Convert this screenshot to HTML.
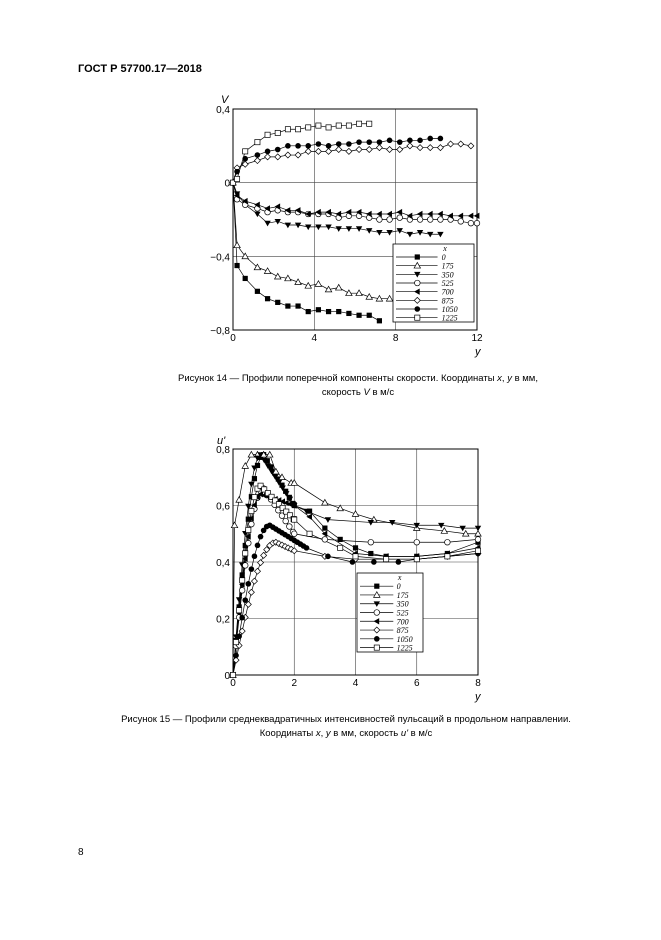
<!DOCTYPE html>
<html><head><meta charset="utf-8"><style>
body{margin:0;background:#fff;width:661px;height:935px;overflow:hidden;font-family:"Liberation Sans",sans-serif;}
</style></head><body>
<svg id="s" width="661" height="935" xmlns="http://www.w3.org/2000/svg" font-family="Liberation Sans, sans-serif">
<text x="78" y="72" font-size="11" font-weight="bold">ГОСТ Р 57700.17—2018</text>
<text x="358" y="381" font-size="9.5" text-anchor="middle">Рисунок 14 — Профили поперечной компоненты скорости. Координаты <tspan font-style="italic">x</tspan>, <tspan font-style="italic">y</tspan> в мм,</text>
<text x="358" y="395" font-size="9.5" text-anchor="middle">скорость <tspan font-style="italic">V</tspan> в м/с</text>
<text x="346" y="722" font-size="9.5" text-anchor="middle">Рисунок 15 — Профили среднеквадратичных интенсивностей пульсаций в продольном направлении.</text>
<text x="346" y="736" font-size="9.5" text-anchor="middle">Координаты <tspan font-style="italic">x</tspan>, <tspan font-style="italic">y</tspan> в мм, скорость <tspan font-style="italic">u'</tspan> в м/с</text>
<text x="78" y="855" font-size="10">8</text>
</svg>
<script>
const S=document.getElementById('s');const NS='http://www.w3.org/2000/svg';
function el(t,a,txt){const e=document.createElementNS(NS,t);for(const k in a)e.setAttribute(k,a[k]);if(txt!=null)e.textContent=txt;S.appendChild(e);return e;}
function marker(type,x,y){const r=2.6;
 if(type=='sq')el('rect',{x:x-r,y:y-r,width:2*r,height:2*r,fill:'#000'});
 if(type=='osq')el('rect',{x:x-r,y:y-r,width:2*r,height:2*r,fill:'#fff',stroke:'#000','stroke-width':0.7});
 if(type=='tu')el('polygon',{points:`${x},${y-3.2} ${x-3.2},${y+2.4} ${x+3.2},${y+2.4}`,fill:'#fff',stroke:'#000','stroke-width':0.7});
 if(type=='td')el('polygon',{points:`${x},${y+3.2} ${x-3.2},${y-2.4} ${x+3.2},${y-2.4}`,fill:'#000'});
 if(type=='tl')el('polygon',{points:`${x-3.2},${y} ${x+2.4},${y-3.2} ${x+2.4},${y+3.2}`,fill:'#000'});
 if(type=='oc')el('circle',{cx:x,cy:y,r:2.8,fill:'#fff',stroke:'#000','stroke-width':0.7});
 if(type=='c')el('circle',{cx:x,cy:y,r:2.8,fill:'#000'});
 if(type=='d')el('polygon',{points:`${x},${y-3} ${x+3},${y} ${x},${y+3} ${x-3},${y}`,fill:'#fff',stroke:'#000','stroke-width':0.7});
}
function chart(c){
 const X=v=>c.x0+(v-c.xmin)/(c.xmax-c.xmin)*(c.x1-c.x0);
 const Y=v=>c.y1-(v-c.ymin)/(c.ymax-c.ymin)*(c.y1-c.y0);
 for(const v of c.xt){el('line',{x1:X(v),x2:X(v),y1:c.y0,y2:c.y1,stroke:'#444','stroke-width':0.6});
  el('text',{x:X(v),y:c.y1+11,'font-size':10,'text-anchor':'middle'},c.xl(v));}
 for(const v of c.yt){el('line',{x1:c.x0,x2:c.x1,y1:Y(v),y2:Y(v),stroke:'#444','stroke-width':0.6});
  el('text',{x:c.x0-3,y:Y(v)+4,'font-size':10,'text-anchor':'end'},c.yl(v));}
 el('rect',{x:c.x0,y:c.y0,width:c.x1-c.x0,height:c.y1-c.y0,fill:'none',stroke:'#000','stroke-width':1});
 for(const s of c.series){const pts=s.p.map(p=>X(p[0])+','+Y(p[1])).join(' ');
  el('polyline',{points:pts,fill:'none',stroke:'#000','stroke-width':0.7});}
 for(const s of c.series)for(const p of s.p)marker(s.m,X(p[0]),Y(p[1]));
 const L=c.leg;el('rect',{x:L.x,y:L.y,width:L.w,height:L.h,fill:'#fff',stroke:'#000','stroke-width':0.8});
 const dh=L.h/9;el('text',{x:L.x+L.w*0.62,y:L.y+dh*0.8,'font-size':8,'font-style':'italic','font-family':'Liberation Serif, serif'},'x');
 c.series.forEach((s,i)=>{const yy=L.y+dh*(i+1.5);el('line',{x1:L.x+3,x2:L.x+L.w*0.55,y1:yy,y2:yy,stroke:'#000','stroke-width':0.7});
  marker(s.m,L.x+L.w*0.3,yy);el('text',{x:L.x+L.w*0.6,y:yy+3,'font-size':8,'font-style':'italic','font-family':'Liberation Serif, serif'},s.n);});
}
function mk(xs,ys){return xs.map((x,i)=>[x,ys[i]]);}
const ys1=[0,0.2,0.6,1.2,1.7,2.2,2.7,3.2,3.7,4.2,4.7,5.2,5.7,6.2,6.7,7.2,7.7,8.2,8.7,9.2,9.7,10.2,10.7,11.2,11.7,12];
function s1(vals){return vals.map((v,i)=>[ys1[i],v]);}
chart({x0:233,x1:477,y0:109,y1:330,xmin:0,xmax:12,ymin:-0.8,ymax:0.4,xt:[0,4,8,12],yt:[-0.8,-0.4,0,0.4],
 xl:v=>v,yl:v=>v==0?'0':(v<0?'\u2212':'')+Math.abs(v).toFixed(1).replace('.',','),
 leg:{x:393,y:244,w:81,h:78},
 series:[
 {n:'0',m:'sq',p:s1([0,-0.45,-0.52,-0.59,-0.63,-0.65,-0.67,-0.67,-0.7,-0.69,-0.7,-0.7,-0.71,-0.72,-0.72,-0.75])},
 {n:'175',m:'tu',p:s1([0,-0.34,-0.4,-0.46,-0.48,-0.51,-0.52,-0.54,-0.56,-0.55,-0.58,-0.57,-0.6,-0.6,-0.62,-0.63,-0.63])},
 {n:'350',m:'td',p:s1([0,-0.06,-0.12,-0.17,-0.22,-0.21,-0.23,-0.23,-0.24,-0.24,-0.24,-0.25,-0.25,-0.25,-0.26,-0.27,-0.27,-0.26,-0.28,-0.27,-0.28,-0.28])},
 {n:'525',m:'oc',p:s1([0,-0.09,-0.12,-0.14,-0.16,-0.15,-0.16,-0.16,-0.17,-0.17,-0.17,-0.19,-0.18,-0.18,-0.19,-0.2,-0.2,-0.19,-0.2,-0.2,-0.2,-0.2,-0.2,-0.21,-0.22,-0.22])},
 {n:'700',m:'tl',p:s1([0,-0.07,-0.1,-0.12,-0.14,-0.13,-0.15,-0.15,-0.17,-0.16,-0.16,-0.17,-0.16,-0.16,-0.17,-0.17,-0.17,-0.16,-0.18,-0.17,-0.17,-0.17,-0.18,-0.18,-0.18,-0.18])},
 {n:'875',m:'d',p:s1([0,0.08,0.1,0.12,0.14,0.14,0.15,0.15,0.17,0.17,0.17,0.18,0.17,0.18,0.18,0.19,0.18,0.18,0.2,0.19,0.19,0.19,0.21,0.21,0.2])},
 {n:'1050',m:'c',p:s1([0,0.06,0.13,0.15,0.17,0.18,0.2,0.2,0.2,0.21,0.2,0.21,0.21,0.22,0.22,0.22,0.23,0.22,0.23,0.23,0.24,0.24])},
 {n:'1225',m:'osq',p:s1([0,0.02,0.17,0.22,0.26,0.27,0.29,0.29,0.3,0.31,0.3,0.31,0.31,0.32,0.32])}
]});
function rise(peakY,peakV,startV){const a=[[0,0]];for(let y=0.1;y<peakY-0.01;y+=0.1){a.push([+y.toFixed(2),startV+(peakV-startV)*Math.sin(Math.PI/2*y/peakY)]);}return a;}
function curve(peakY,peakV,tail,dense){const a=rise(peakY,peakV,0);a.push([peakY,peakV]);
 // dense decay points after peak until first tail point
 let prev=[peakY,peakV];const first=tail[0];
 for(let y=peakY+dense;y<first[0]-0.01;y+=dense){const t=(y-peakY)/(first[0]-peakY);a.push([y,peakV+(first[1]-peakV)*t]);}
 return a.concat(tail);}
chart({x0:233,x1:478,y0:449,y1:675,xmin:0,xmax:8,ymin:0,ymax:0.8,xt:[0,2,4,6,8],yt:[0,0.2,0.4,0.6,0.8],
 xl:v=>v,yl:v=>v==0?'0':v.toFixed(1).replace('.',','),
 leg:{x:357,y:573,w:66,h:79},
 series:[
 {n:'0',m:'sq',p:curve(1.0,0.78,[[2,0.6],[2.5,0.58],[3,0.52],[3.5,0.48],[4,0.45],[4.5,0.43],[5,0.42],[6,0.42],[7,0.43],[8,0.47]],0.12)},
 {n:'175',m:'tu',p:[[0,0],[0.05,0.53],[0.2,0.62],[0.4,0.74],[0.6,0.78],[0.8,0.78],[1,0.78],[1.2,0.78],[1.4,0.72],[1.6,0.7],[1.9,0.68],[2,0.68],[3,0.61],[3.5,0.59],[4,0.57],[4.6,0.55],[6,0.52],[6.9,0.51],[7.6,0.5],[8,0.5]]},
 {n:'350',m:'td',p:curve(0.9,0.78,[[2,0.6],[2.4,0.58],[3.1,0.55],[4.5,0.54],[5.2,0.54],[6,0.53],[6.8,0.53],[7.5,0.52],[8,0.52]],0.12)},
 {n:'525',m:'oc',p:curve(1.0,0.66,[[2,0.5],[3,0.48],[4.5,0.47],[6,0.47],[7,0.47],[8,0.48]],0.12)},
 {n:'700',m:'tl',p:curve(0.9,0.64,[[2,0.6],[2.5,0.56],[3,0.5],[4,0.43],[5,0.42],[6,0.42],[7,0.43],[8,0.45]],0.12)},
 {n:'875',m:'d',p:curve(1.4,0.47,[[2,0.44],[3,0.42],[4,0.41],[5,0.41],[6,0.41],[7,0.42],[8,0.43]],0.1)},
 {n:'1050',m:'c',p:curve(1.2,0.53,[[2.4,0.45],[3.1,0.42],[3.9,0.4],[4.6,0.4],[5.4,0.4],[6,0.41],[7,0.42],[8,0.43]],0.1)},
 {n:'1225',m:'osq',p:curve(0.9,0.67,[[2,0.55],[2.5,0.5],[3.5,0.45],[4,0.42],[5,0.41],[6,0.41],[7,0.42],[8,0.44]],0.12)}
]});
el('text',{x:221,y:103,'font-size':11,'font-style':'italic'},'V');
el('text',{x:475,y:355,'font-size':11,'font-style':'italic'},'y');
el('text',{x:217,y:444,'font-size':11,'font-style':'italic'},"u'");
el('text',{x:475,y:700,'font-size':11,'font-style':'italic'},'y');
</script>
</body></html>
